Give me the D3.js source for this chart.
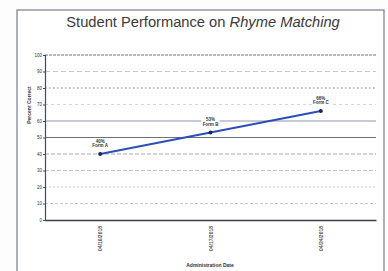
<!DOCTYPE html>
<html><head><meta charset="utf-8">
<script src="https://cdn.jsdelivr.net/npm/d3@7"></script>
<style>body{margin:0;background:#fff}svg{display:block}</style>
</head><body>
<script>
const categories = ["04/10/2018", "04/17/2018", "04/24/2018"];
const values = [40, 53, 66];
const pointLabels = ["Form A", "Form B", "Form C"];
const yTicks = [0,10,20,30,40,50,60,70,80,90,100];

const W = 388, H = 271;
const svg = d3.select("body").append("svg").attr("width", W).attr("height", H);
svg.append("rect").attr("width", W).attr("height", H).attr("fill", "#fdfdfd");
svg.append("rect").attr("x", 17).attr("y", 10).attr("width", 367).attr("height", 270)
  .attr("fill", "#fff").attr("stroke", "#8a8f9c").attr("stroke-width", 1.4);

const m = {l: 45, r: 376, t: 55, b: 220};
const x = d3.scalePoint().domain(categories).range([m.l, m.r]).padding(0.5);
const y = d3.scaleLinear().domain([0, 100]).range([m.b, m.t]);

const title = svg.append("text").attr("x", 203).attr("y", 27).attr("text-anchor", "middle")
  .attr("font-family", "Liberation Sans, Arial, sans-serif").attr("font-size", 14.7).attr("fill", "#3a3a3a");
title.append("tspan").text("Student Performance on ");
title.append("tspan").attr("font-style", "italic").text("Rhyme Matching");

const gridStyle = {
  10: ["#b9bcc4", "3,2", 0.8], 20: ["#b9bcc4", "2,2", 0.8], 30: ["#aeb2bd", "4,2", 0.8],
  40: ["#9ea3ae", "4,2", 0.9], 50: ["#6b6f7a", null, 1.1], 60: ["#8f97ad", null, 1.0],
  70: ["#c8cbd2", "3,3", 0.8], 80: ["#7080a8", "1.5,2.5", 1.1], 90: ["#b3b7c0", "5,3", 0.8], 100: ["#6a7490", "3,1", 1.1]
};
yTicks.filter(d => d > 0).forEach(d => {
  const s = gridStyle[d];
  svg.append("line").attr("x1", m.l).attr("x2", m.r).attr("y1", y(d)).attr("y2", y(d))
    .attr("stroke", s[0]).attr("stroke-width", s[2]).attr("stroke-dasharray", s[1]);
});

const ya = svg.append("g").attr("transform", `translate(${m.l},0)`)
  .call(d3.axisLeft(y).tickValues(yTicks).tickSize(2).tickPadding(1).tickFormat(d3.format("d")));
ya.select(".domain").attr("stroke", "#3e4a6b").attr("stroke-width", 1.2);
ya.selectAll("line").attr("stroke", "#3e4a6b");
ya.selectAll("text").attr("font-size", 4.5).attr("font-family", "Liberation Sans, Arial, sans-serif").attr("fill", "#333");

const xa = svg.append("g").attr("transform", `translate(0,${m.b})`)
  .call(d3.axisBottom(x).tickSize(0).tickSizeOuter(0));
xa.select(".domain").attr("stroke", "#3a3f4d").attr("stroke-width", 1.4);
xa.selectAll(".tick text").attr("font-size", 5).attr("font-family", "Liberation Sans, Arial, sans-serif")
  .attr("font-weight", "bold").attr("fill", "#555").attr("text-anchor", "end")
  .attr("transform", "rotate(-90)").attr("x", -6).attr("y", 0).attr("dy", "0.35em");

svg.append("text").attr("transform", "translate(31,105) rotate(-90)").attr("text-anchor", "middle")
  .attr("font-size", 5).attr("font-weight", "bold").attr("font-family", "Liberation Sans, Arial, sans-serif")
  .attr("fill", "#333").text("Percent Correct");
svg.append("text").attr("x", 210).attr("y", 267).attr("text-anchor", "middle")
  .attr("font-size", 5).attr("font-weight", "bold").attr("font-family", "Liberation Sans, Arial, sans-serif")
  .attr("fill", "#333").text("Administration Date");

const data = categories.map((c, i) => ({c, v: values[i], lab: pointLabels[i]}));
svg.append("path").datum(data)
  .attr("d", d3.line().x(d => x(d.c)).y(d => y(d.v)))
  .attr("fill", "none").attr("stroke", "#2b4fb8").attr("stroke-width", 2);
svg.selectAll("circle.pt").data(data).join("circle").attr("class", "pt")
  .attr("cx", d => x(d.c)).attr("cy", d => y(d.v)).attr("r", 2).attr("fill", "#1c2550");

const lg = svg.selectAll("g.lab").data(data).join("g").attr("class", "lab")
  .attr("transform", d => `translate(${x(d.c)},${y(d.v) - 9})`);
lg.append("rect").attr("x", -9).attr("y", -7).attr("width", 18).attr("height", 10).attr("fill", "#fff");
lg.append("text").attr("text-anchor", "middle").attr("y", -2.5)
  .attr("font-size", 4.5).attr("font-weight", "bold").attr("font-family", "Liberation Sans, Arial, sans-serif")
  .attr("fill", "#333").text(d => d.v + "%");
lg.append("text").attr("text-anchor", "middle").attr("y", 2)
  .attr("font-size", 4.5).attr("font-weight", "bold").attr("font-family", "Liberation Sans, Arial, sans-serif")
  .attr("fill", "#333").text(d => d.lab);
</script>
</body></html>
